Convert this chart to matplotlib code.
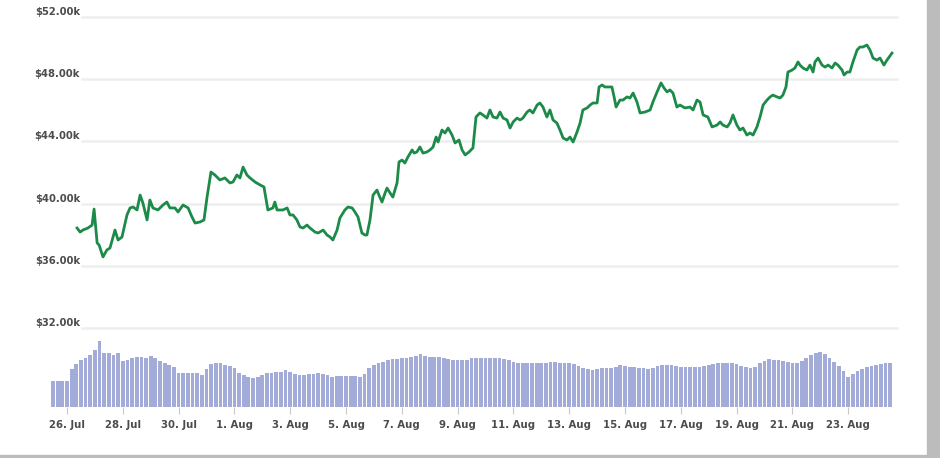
import datetime as dt
import matplotlib
matplotlib.use("Agg")
import matplotlib.pyplot as plt
from matplotlib.patches import Rectangle

# --- data ---
BASE = dt.datetime(2021, 7, 26)

# price line: time as days after 26 Jul, price in $k
price_day = [
    0.36, 0.47, 0.57, 0.75, 0.90, 0.97, 1.08, 1.15, 1.29, 1.43, 1.54, 1.72, 1.83, 1.97,
    2.15, 2.26, 2.37, 2.51, 2.62, 2.72, 2.87, 2.97, 3.08, 3.26, 3.44, 3.58, 3.69, 3.87,
    3.98, 4.16, 4.34, 4.48, 4.59, 4.77, 4.91, 5.02, 5.16, 5.30, 5.48, 5.66, 5.84, 5.95,
    6.09, 6.20, 6.31, 6.45, 6.56, 6.74, 6.92, 7.06, 7.20, 7.38, 7.45, 7.53, 7.74, 7.89,
    7.99, 8.10, 8.24, 8.35, 8.46, 8.60, 8.71, 8.89, 9.00, 9.18, 9.32, 9.43, 9.53, 9.68,
    9.78, 9.96, 10.07, 10.22, 10.32, 10.43, 10.57, 10.68, 10.75, 10.86, 10.97, 11.11,
    11.18, 11.29, 11.40, 11.47, 11.58, 11.68, 11.83, 11.90, 12.01, 12.11, 12.22, 12.37,
    12.44, 12.54, 12.65, 12.76, 12.90, 13.01, 13.12, 13.23, 13.30, 13.44, 13.55, 13.66,
    13.80, 13.91, 14.05, 14.16, 14.27, 14.41, 14.55, 14.66, 14.80, 14.91, 15.05, 15.16,
    15.27, 15.41, 15.52, 15.63, 15.77, 15.88, 15.99, 16.13, 16.24, 16.34, 16.49, 16.59,
    16.70, 16.85, 16.95, 17.06, 17.20, 17.31, 17.42, 17.56, 17.67, 17.78, 17.92, 18.03,
    18.14, 18.28, 18.39, 18.49, 18.64, 18.75, 18.85, 19.00, 19.07, 19.18, 19.28, 19.39,
    19.53, 19.61, 19.68, 19.82, 19.93, 20.07, 20.18, 20.29, 20.43, 20.54, 20.72, 20.90,
    21.00, 21.15, 21.29, 21.40, 21.51, 21.61, 21.72, 21.86, 21.97, 22.15, 22.33, 22.44,
    22.58, 22.69, 22.80, 22.97, 23.12, 23.30, 23.41, 23.51, 23.66, 23.76, 23.87, 24.01,
    24.12, 24.23, 24.37, 24.48, 24.59, 24.73, 24.84, 24.95, 25.09, 25.20, 25.30, 25.45,
    25.56, 25.66, 25.77, 25.84, 25.99, 26.09, 26.20, 26.27, 26.38, 26.52, 26.63, 26.74,
    26.81, 26.92, 27.06, 27.17, 27.28, 27.42, 27.53, 27.63, 27.78, 27.85, 27.96, 28.06,
    28.17, 28.32, 28.42, 28.53, 28.67, 28.78, 28.89, 29.03, 29.14, 29.28, 29.39, 29.57,
]
price_k = [
    38.43, 38.17, 38.30, 38.43, 38.62, 39.65, 37.47, 37.34, 36.57, 37.02, 37.14, 38.30, 37.66, 37.85,
    39.27, 39.72, 39.78, 39.59, 40.55, 40.04, 38.95, 40.23, 39.72, 39.59, 39.91, 40.10, 39.72, 39.72,
    39.46, 39.91, 39.72, 39.14, 38.75, 38.82, 38.95, 40.42, 42.03, 41.84, 41.52, 41.65, 41.33, 41.39,
    41.84, 41.65, 42.35, 41.84, 41.65, 41.39, 41.20, 41.07, 39.59, 39.72, 40.10, 39.59, 39.59, 39.72,
    39.27, 39.27, 38.95, 38.50, 38.43, 38.62, 38.43, 38.17, 38.11, 38.30, 37.98, 37.85, 37.66, 38.30,
    39.07, 39.59, 39.78, 39.72, 39.46, 39.14, 38.11, 37.98, 37.98, 38.95, 40.55, 40.87,
    40.55, 40.10, 40.68, 41.00, 40.68, 40.42, 41.33, 42.68, 42.80, 42.61, 43.00, 43.45,
    43.25, 43.32, 43.64, 43.25, 43.32, 43.45, 43.64, 44.28, 43.96, 44.73, 44.54, 44.86,
    44.41, 43.90, 44.09, 43.45, 43.13, 43.32, 43.58, 45.57, 45.83, 45.70, 45.50, 46.02,
    45.57, 45.50, 45.89, 45.50, 45.38, 44.86, 45.25, 45.50, 45.38, 45.50, 45.89, 46.02,
    45.83, 46.34, 46.47, 46.21, 45.57, 46.02, 45.38, 45.18, 44.73, 44.22, 44.09, 44.28,
    43.96, 44.60, 45.18, 46.02, 46.15, 46.34, 46.47, 46.47, 47.50, 47.63, 47.50, 47.50,
    47.50, 46.86, 46.21, 46.66, 46.66, 46.86, 46.79, 47.11, 46.53, 45.83, 45.89, 46.02,
    46.53, 47.18, 47.76, 47.43, 47.18, 47.31, 47.11, 46.21, 46.34, 46.15, 46.21, 46.02,
    46.66, 46.53, 45.70, 45.57, 44.93, 45.05, 45.25, 45.05, 44.93, 45.18, 45.70, 45.05,
    44.73, 44.86, 44.41, 44.54, 44.41, 44.93, 45.57, 46.34, 46.66, 46.86, 46.98, 46.86,
    46.79, 46.98, 47.50, 48.46, 48.59, 48.72, 49.11, 48.91, 48.72, 48.59, 48.91, 48.46,
    49.11, 49.36, 48.91, 48.78, 48.91, 48.72, 49.04, 48.91, 48.59, 48.27, 48.46, 48.46,
    49.11, 49.88, 50.07, 50.07, 50.20, 49.88, 49.36, 49.23, 49.36, 48.91, 49.23, 49.68,
]

# volume bars, one every 4 hours from 25 Jul 12:00 (relative units)
vol_start_day = -0.5
vol_step_day = 1 / 6
volume = [
    26, 26, 26, 26, 38, 43, 47, 49, 52, 57, 66, 54, 54, 52, 54, 46, 47, 49,
    50, 50, 49, 51, 49, 46, 44, 42, 40, 34, 34, 34, 34, 34, 32, 38, 43, 44,
    44, 42, 41, 39, 34, 32, 30, 29, 30, 32, 34, 34, 35, 35, 37, 35, 33, 32,
    32, 33, 33, 34, 33, 32, 30, 31, 31, 31, 31, 31, 30, 33, 39, 42, 44, 45,
    47, 48, 48, 49, 49, 50, 51, 53, 51, 50, 50, 50, 49, 48, 47, 47, 47, 47,
    49, 49, 49, 49, 49, 49, 49, 48, 47, 45, 44, 44, 44, 44, 44, 44, 44, 45,
    45, 44, 44, 44, 43, 41, 39, 38, 37, 38, 39, 39, 39, 40, 42, 41, 40, 40,
    39, 39, 38, 39, 41, 42, 42, 42, 41, 40, 40, 40, 40, 40, 41, 42, 43, 44,
    44, 44, 44, 43, 41, 40, 39, 40, 44, 46, 48, 47, 47, 46, 45, 44, 44, 46,
    49, 52, 54, 55, 53, 49, 45, 41, 36, 30, 33, 36, 38, 40, 41, 42, 43, 44,
    44,
]

price_ticks = [32000, 36000, 40000, 44000, 48000, 52000]
tick_labels = ["26. Jul", "28. Jul", "30. Jul", "1. Aug", "3. Aug", "5. Aug", "7. Aug",
               "9. Aug", "11. Aug", "13. Aug", "15. Aug", "17. Aug", "19. Aug",
               "21. Aug", "23. Aug"]
tick_day = [2 * i for i in range(len(tick_labels))]

LINE_GREEN = "#1c8a48"
BAR_BLUE = "#a3acd8"
GRID = "#eeeeee"
TXT = "#4c4c4c"

W, H = 940, 458
fig = plt.figure(figsize=(W / 100, H / 100), dpi=100)
fig.patch.set_facecolor("white")

x_left, x_right = 50, 897
xmin = BASE + dt.timedelta(days=(x_left - 67) / 27.9)
xmax = BASE + dt.timedelta(days=(x_right - 67) / 27.9)

# price panel
ax = fig.add_axes([x_left / W, (H - 328) / H, (x_right - x_left) / W, (328 - 17) / H])
ax.set_xlim(xmin, xmax)
ax.set_ylim(32000, 52000)
ax.axis("off")
grid_from = (82 - x_left) / (x_right - x_left)
for v in price_ticks:
    ax.axhline(v, xmin=grid_from, xmax=1, color=GRID, lw=1.8, clip_on=False, zorder=0)
    ax.text((80 - x_left) / (x_right - x_left), v, f"${v / 1000:.2f}k",
            transform=ax.get_yaxis_transform(), ha="right", va="bottom",
            fontsize=7.2, fontweight="bold", color=TXT)

times = [BASE + dt.timedelta(days=d) for d in price_day]
ax.plot(times, [p * 1000 for p in price_k], color=LINE_GREEN, lw=2.0, zorder=3)

# volume panel
axv = fig.add_axes([x_left / W, (H - 407) / H, (x_right - x_left) / W, (407 - 335) / H])
axv.set_xlim(xmin, xmax)
axv.set_ylim(0, 72)
vol_times = [BASE + dt.timedelta(days=vol_start_day + i * vol_step_day) for i in range(len(volume))]
axv.bar(vol_times, volume, width=vol_step_day * 0.8, color=BAR_BLUE, linewidth=0)
for s in axv.spines.values():
    s.set_visible(False)
axv.set_yticks([])
axv.set_xticks([BASE + dt.timedelta(days=d) for d in tick_day])
axv.set_xticklabels(tick_labels)
axv.tick_params(axis="x", length=5, width=0.8, color="#c8c8c8", pad=4,
                labelsize=7.3, labelcolor=TXT)
for lab in axv.get_xticklabels():
    lab.set_fontweight("bold")

# grey frame strips at right and bottom
fig.patches.append(Rectangle((927 / W, 0), 13 / W, 1, transform=fig.transFigure,
                             color="#bcbcbc", zorder=10))
fig.patches.append(Rectangle((0, 0), 1, 3 / H, transform=fig.transFigure,
                             color="#bcbcbc", zorder=10))

fig.savefig("out.png", dpi=100)
